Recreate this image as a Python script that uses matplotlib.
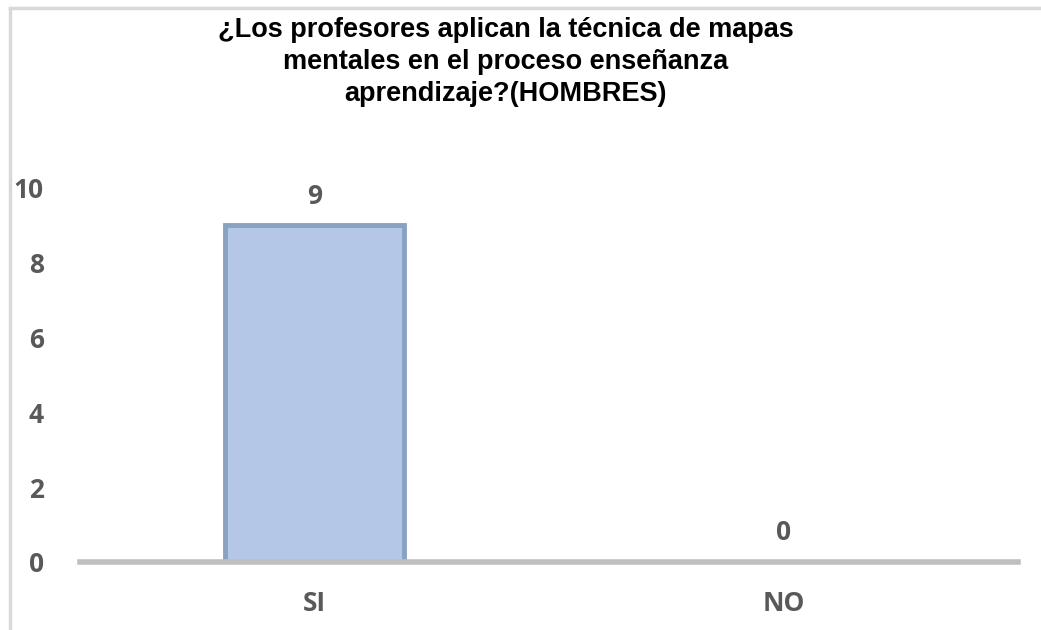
import matplotlib
matplotlib.use("Agg")
import matplotlib.pyplot as plt
from matplotlib.lines import Line2D

# Data
categorias = ['SI', 'NO']
valores = [9, 0]
ticks_y = [0, 2, 4, 6, 8, 10]
titulo = '¿Los profesores aplican la técnica de mapas\nmentales en el proceso enseñanza\naprendizaje?(HOMBRES)'

W, H = 1041, 630
fig = plt.figure(figsize=(W / 100, H / 100), dpi=100)
fig.patch.set_facecolor('white')

# Frame lines (top and left) like the screenshot border
fig.add_artist(Line2D([10 / W, 10 / W], [0, 1 - 8 / H], color='#d9d9d9', lw=2.5))
fig.add_artist(Line2D([10 / W, 1], [1 - 8 / H, 1 - 8 / H], color='#d9d9d9', lw=2.5))

left, right = 80 / W, 1018 / W
bottom, top = 1 - 562 / H, 1 - 188 / H
ax = fig.add_axes([left, bottom, right - left, top - bottom])

x = list(range(len(categorias)))
ax.bar(x, valores, width=0.38, color='#b4c7e7', edgecolor='#8aa2c2',
       linewidth=3.5, zorder=2)

lab_font = 'Open Sans'
for xi, v in zip(x, valores):
    ax.text(xi, v + 0.42, str(v), ha='center', va='bottom', fontsize=19,
            fontweight='bold', color='#595959', family=lab_font)

ax.set_xlim(-0.5, 1.5)
ax.set_ylim(0, 10)
ax.set_yticks(ticks_y)
ax.set_xticks(x)
ax.set_xticklabels(categorias)

for s in ['top', 'right', 'left']:
    ax.spines[s].set_visible(False)
ax.spines['bottom'].set_color('#bfbfbf')
ax.spines['bottom'].set_linewidth(4)
ax.spines['bottom'].set_zorder(3)

ax.tick_params(axis='both', length=0, labelcolor='#595959', labelsize=19)
ax.tick_params(axis='y', pad=26)
ax.tick_params(axis='x', pad=20)
for lbl in ax.get_xticklabels() + ax.get_yticklabels():
    lbl.set_fontweight('bold')
    lbl.set_family(lab_font)

fig.text(0.486, 1 - 17 / H, titulo, ha='center', va='top', fontsize=19.5,
         fontweight='bold', color='black', family='Liberation Sans',
         linespacing=1.3)

fig.savefig('out.png', dpi=100, facecolor='white')
